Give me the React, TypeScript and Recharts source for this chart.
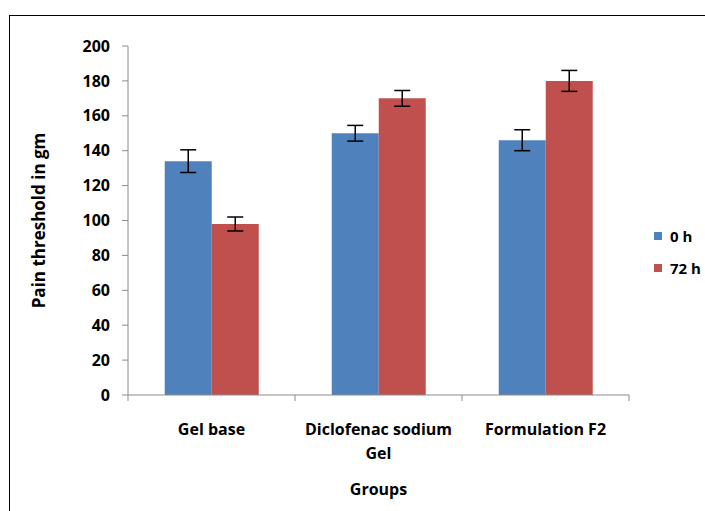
import React from 'react';
import { BarChart, Bar, XAxis, YAxis, ErrorBar } from 'recharts';

const groups = ['Gel base', 'Diclofenac sodium Gel', 'Formulation F2'];
const seriesNames = ['0 h', '72 h'];
const values0h = [134, 150, 146];
const values72h = [98, 170, 180];
const err0h = [6.5, 4.5, 6];
const err72h = [4, 4.5, 6];
const yTicks = [0, 20, 40, 60, 80, 100, 120, 140, 160, 180, 200];
const colors = ['#4F81BD', '#C0504D'];

const data = groups.map((g, i) => ({
  group: g,
  h0: values0h[i],
  h72: values72h[i],
  e0: err0h[i],
  e72: err72h[i],
}));

const FONT = '"Open Sans", sans-serif';
const AXIS = '#8c8c8c';
const W = 705;
const H = 511;
const M = { top: 46, right: 76, bottom: 0, left: 0 };
const YW = 128;
const XH = 116;
const band = (W - M.right - YW) / groups.length;

// wrap long category names onto two lines, like Excel does
const wrap = (s: string) => {
  if (s.length <= 18) return [s];
  const k = s.lastIndexOf(' ');
  return [s.slice(0, k), s.slice(k + 1)];
};

const XTick = (props: any) => {
  const { x, y, payload, index } = props;
  const lines = wrap(String(payload.value));
  return (
    <g>
      <line x1={x - band / 2} y1={y - 8} x2={x - band / 2} y2={y - 2} stroke={AXIS} />
      {index === groups.length - 1 && (
        <line x1={x + band / 2} y1={y - 8} x2={x + band / 2} y2={y - 2} stroke={AXIS} />
      )}
      <text x={x} y={y + 32} textAnchor="middle" fontSize={16} fontWeight="bold" fontFamily={FONT} fill="#000">
        {lines.map((l, i) => (
          <tspan key={i} x={x} dy={i === 0 ? 0 : 24}>{l}</tspan>
        ))}
      </text>
    </g>
  );
};

export default function App() {
  return (
    <div style={{ position: 'absolute', left: 0, top: 0, width: W, height: H, overflow: 'hidden', background: '#fff' }}>
      <div style={{ position: 'absolute', left: 9, top: 15, width: 720, height: 520, border: '1.5px solid #000' }} />
      <div style={{ position: 'absolute', left: 0, top: 0 }}>
        <BarChart width={W} height={H} data={data} margin={M} barCategoryGap="22%" barGap={0}>
          <XAxis
            dataKey="group"
            height={XH}
            stroke={AXIS}
            tickLine={false}
            interval={0}
            tick={<XTick />}
            label={{ value: 'Groups', position: 'insideBottom', offset: 16, fontSize: 16, fontWeight: 'bold', fontFamily: FONT, fill: '#000' }}
          />
          <YAxis
            width={YW}
            domain={[0, 200]}
            ticks={yTicks}
            interval={0}
            stroke={AXIS}
            tickSize={6}
            tickMargin={12}
            tick={{ fontSize: 16, fontWeight: 'bold', fontFamily: FONT, fill: '#000' }}
            label={{
              value: 'Pain threshold in gm',
              angle: -90,
              position: 'insideLeft',
              content: (p: any) => {
                const vb = p.viewBox;
                const cy = vb.y + vb.height / 2;
                return (
                  <text x={38} y={cy} transform={`rotate(-90, 38, ${cy})`} textAnchor="middle" dominantBaseline="central"
                    fontSize={17} fontWeight="bold" fontFamily={FONT} fill="#000">
                    Pain threshold in gm
                  </text>
                );
              },
            }}
          />
          <Bar dataKey="h0" name={seriesNames[0]} fill={colors[0]} isAnimationActive={false}>
            <ErrorBar dataKey="e0" width={8} stroke="#000" strokeWidth={1.5} />
          </Bar>
          <Bar dataKey="h72" name={seriesNames[1]} fill={colors[1]} isAnimationActive={false}>
            <ErrorBar dataKey="e72" width={8} stroke="#000" strokeWidth={1.5} />
          </Bar>
        </BarChart>
      </div>
      <div style={{ position: 'absolute', left: 654, top: 226, fontFamily: FONT, fontSize: 15, fontWeight: 'bold', color: '#000' }}>
        {seriesNames.map((n, i) => (
          <div key={n} style={{ display: 'flex', alignItems: 'center', height: 20, marginBottom: 12 }}>
            <span style={{ display: 'inline-block', width: 8, height: 8, background: colors[i], marginRight: 8 }} />
            {n}
          </div>
        ))}
      </div>
    </div>
  );
}
